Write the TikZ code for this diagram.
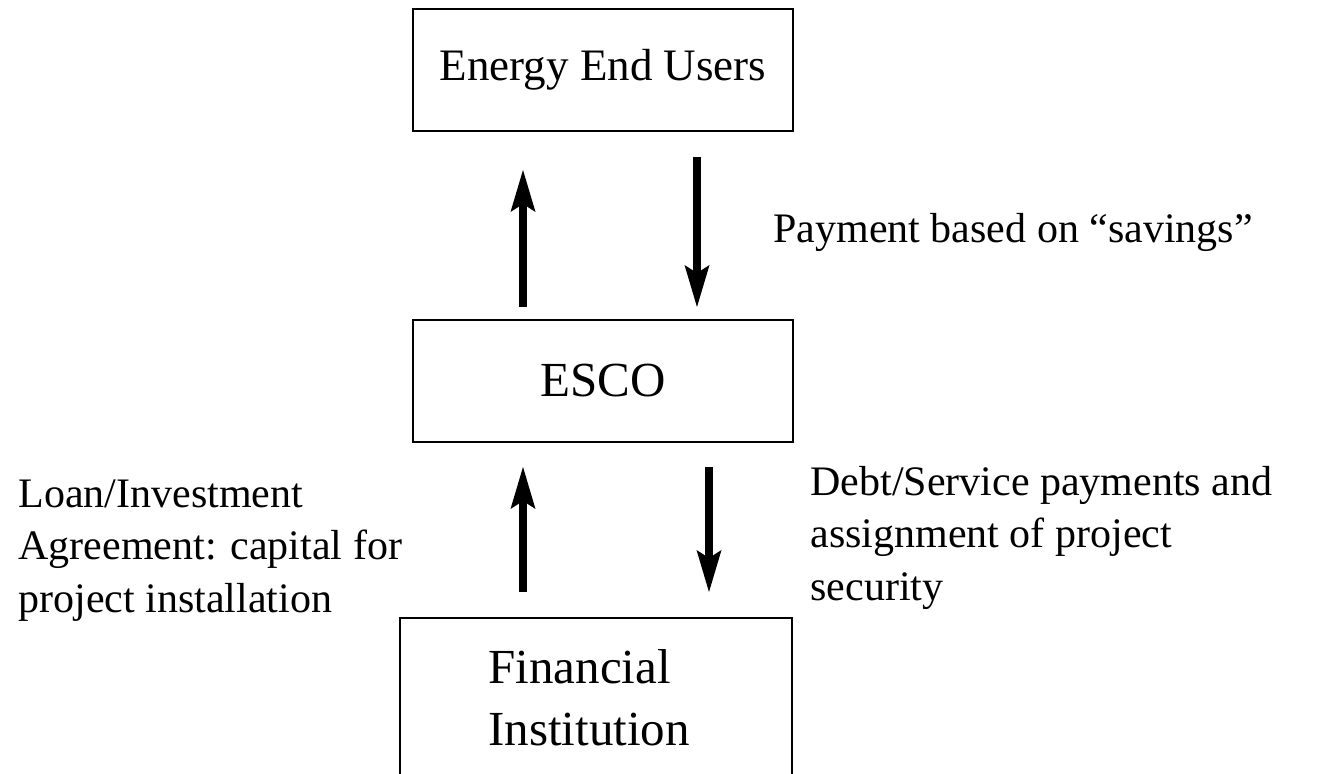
\documentclass[tikz,border=0pt]{standalone}
\usepackage{fontspec}
\setmainfont{Liberation Serif}
\usetikzlibrary{arrows.meta}
\tikzset{
  box/.style={draw, line width=1pt, inner sep=0pt, fill=white},
  flow/.style={line width=4.25pt, -{Stealth[length=21pt,width=12.5pt,inset=4pt,line width=0pt]}},
  lbl/.style={inner sep=0pt, align=left, font=\fontsize{21}{26.25}\selectfont}
}
\begin{document}
\begin{tikzpicture}[x=0.5pt,y=-0.5pt]
\useasboundingbox (0,0) rectangle (1327,774);
\clip (0,0) rectangle (1327,774);
\fill[white] (0,0) rectangle (1327,774);
% boxes
\node[box, minimum width=190pt, minimum height=61pt, font=\fontsize{22.5}{27}\selectfont] (users) at (603,70) {Energy End Users};
\node[box, minimum width=190pt, minimum height=61pt, font=\fontsize{24.5}{30}\selectfont] (esco) at (603,381) {ESCO};
\node[box, minimum width=196pt, minimum height=79.5pt] (fibox) at (596,697.5) {};
\node[inner sep=0pt, align=left, anchor=base west, font=\fontsize{24.5}{31}\selectfont] (fi) at (488,745) {Financial\\Institution};
% connector ends
\coordinate (a1s) at (523,307); \coordinate (a1e) at (523,170);
\coordinate (a2s) at (697,157); \coordinate (a2e) at (697,307);
\coordinate (a3s) at (523,592); \coordinate (a3e) at (523,467);
\coordinate (a4s) at (709,467); \coordinate (a4e) at (709,592);
\draw[flow] (a1s) -- (a1e);
\draw[flow] (a2s) -- (a2e);
\draw[flow] (a3s) -- (a3e);
\draw[flow] (a4s) -- (a4e);
% labels
\node[lbl, anchor=base west] (pay) at (773,243) {Payment based on “savings”};
\node[lbl, anchor=base west] (loan) at (18,612) {Loan/Investment\\Agreement: capital for\\project installation};
\node[lbl, anchor=base west] (debt) at (810,600) {Debt/Service payments and\\assignment of project\\security};
\end{tikzpicture}
\end{document}
